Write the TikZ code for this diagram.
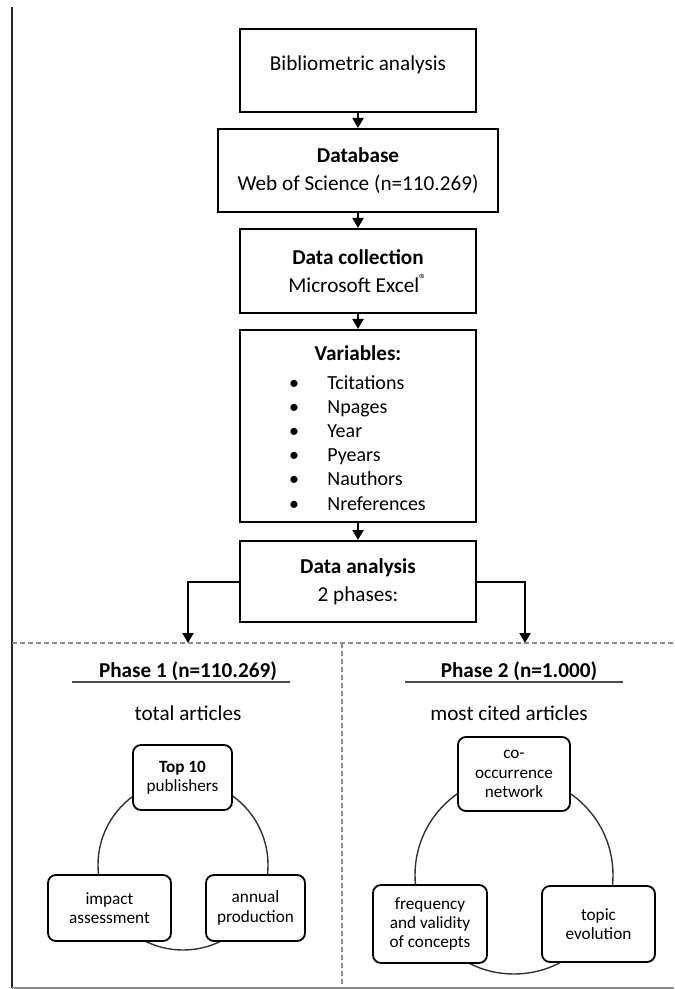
\documentclass[tikz,border=0pt]{standalone}
\usepackage{fontspec}
\setmainfont{Carlito}
\usetikzlibrary{arrows.meta, positioning}

\begin{document}
\begin{tikzpicture}[x=0.5pt, y=-0.5pt,
  flow/.style={draw, line width=1pt, minimum width=118pt, inner sep=0pt, align=center, font=\fontsize{10.6}{14}\selectfont},
  txt/.style={inner sep=0pt, text height=1.5ex, text depth=0pt, font=\fontsize{10.6}{14}\selectfont},
  item/.style={inner sep=0pt, text height=1.5ex, text depth=0pt, font=\fontsize{10}{12}\selectfont},
  tag/.style={draw, fill=white, line width=0.9pt, rounded corners=4pt, inner sep=0pt, align=center, font=\fontsize{8.6}{9.6}\selectfont},
  link/.style={line width=1pt, -{Triangle[width=5.5pt, length=5pt]}},
  ring/.style={draw=black!80, line width=0.7pt},
  sep/.style={draw=black!45, line width=0.6pt, dash pattern=on 2.5pt off 1.5pt},
  rule/.style={draw=black!70, line width=0.8pt}]
 \useasboundingbox (0,0) rectangle (674,989);
 \draw[line width=1pt, black!85] (12,7) -- (12,988);
 \draw[line width=1pt, black!45] (12,988) -- (674,988);
 % flow
 \node[flow, minimum height=41.5pt] (bib) at (358,70.5) {};
 \node[txt] (bibtxt) at (358,63) {Bibliometric analysis};
 \node[flow, minimum width=140pt, minimum height=41.5pt] (db) at (358,170.5) {\textbf{Database}\\Web of Science (n=110.269)};
 \node[flow, minimum height=42pt] (col) at (358,271) {\textbf{Data collection}\\Microsoft Excel\textsuperscript{\textregistered}};
 \node[flow, minimum height=96pt] (vars) at (358,426) {};
 \node[txt] (varhead) at (358,353) {\textbf{Variables:}};
 \foreach \v [count=\i from 0] in {Tcitations, Npages, Year, Pyears, Nauthors, Nreferences}{
   \node[item] (dot\i) at (294, 382+24.2*\i) {\textbullet};
   \node[item, anchor=west] (var\i) at (327, 382+24.2*\i) {\v};
 }
 \node[flow, minimum height=40.5pt] (ana) at (358,581.5) {\textbf{Data analysis}\\2 phases:};
 \draw[link] (bib) -- (db);
 \draw[link] (db) -- (col);
 \draw[link] (col) -- (vars);
 \draw[link] (vars) -- (ana);
 \coordinate (in1) at (188,643);
 \coordinate (in2) at (525,643);
 \draw[link] (ana.west) -| (in1);
 \draw[link] (ana.east) -| (in2);
 \draw[sep] (12,643) -- (674,643);
 \draw[sep] (342,643) -- (342,988);
 % phase 1
 \node[txt] (ph1) at (188,670) {\textbf{Phase 1 (n=110.269)}};
 \draw[rule] (72,682) -- (290,682);
 \node[txt] (ph1sub) at (188,713) {total articles};
 \draw[ring] (183,865) circle[radius=85];
 \node[tag, minimum width=49.5pt, minimum height=32.5pt] (top) at (182.5,777.5) {\textbf{Top 10}\\publishers};
 \node[tag, minimum width=61.5pt, minimum height=33pt] (imp) at (109.5,908) {impact\\assessment};
 \node[tag, minimum width=49.5pt, minimum height=33pt] (ann) at (255.5,908) {annual\\production};
 % phase 2
 \node[txt] (ph2) at (519,670) {\textbf{Phase 2 (n=1.000)}};
 \draw[rule] (405,682) -- (623,682);
 \node[txt] (ph2sub) at (509,713) {most cited articles};
 \draw[ring] (514,875) circle[radius=99];
 \node[tag, minimum width=56pt, minimum height=37pt] (cooc) at (514,774) {co-\\occurrence\\network};
 \node[tag, minimum width=57pt, minimum height=39pt] (freq) at (430,924) {frequency\\and validity\\of concepts};
 \node[tag, minimum width=56.5pt, minimum height=38pt] (topic) at (598.5,924) {topic\\evolution};
\end{tikzpicture}
\end{document}
